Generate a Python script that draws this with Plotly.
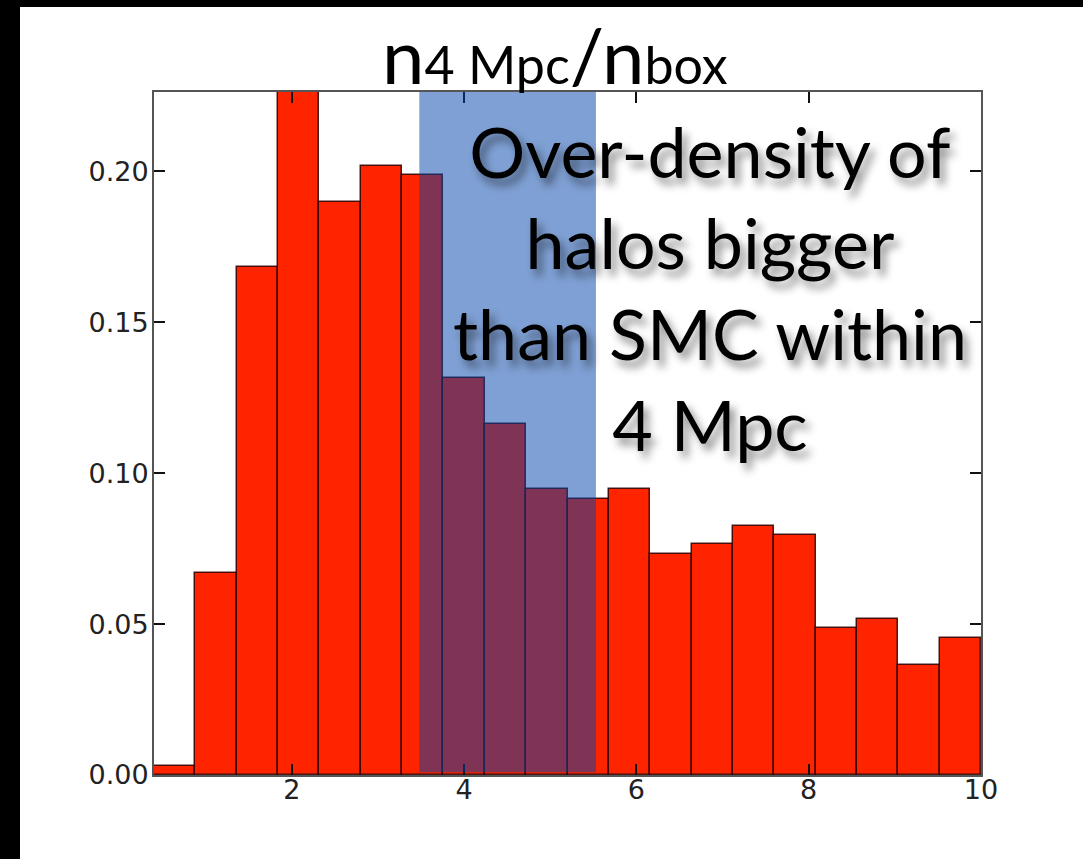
import plotly.graph_objects as go

# ---- data ----
bin_start = 0.4
bin_width = 0.48
heights = [0.0029, 0.0670, 0.1684, 0.2400, 0.1897, 0.2019, 0.1988, 0.1314,
           0.1162, 0.0946, 0.0915, 0.0946, 0.0731, 0.0764, 0.0824, 0.0794,
           0.0487, 0.0518, 0.0363, 0.0455]
centers = [bin_start + bin_width * (i + 0.5) for i in range(len(heights))]
y_ticks = [0.00, 0.05, 0.10, 0.15, 0.20]
x_ticks = [2, 4, 6, 8, 10]
highlight = (3.48, 5.53)
title_html = ('n<span style="font-size:52px">4 Mpc</span>/n'
              '<span style="font-size:52px">box</span>')
note = "Over-density of<br>halos bigger<br>than SMC within<br>4 Mpc"

# ---- layout geometry (pixels) ----
W, H = 1083, 859
L, R, T, B = 154, 102, 92, 84
pw, ph = W - L - R, H - T - B


def px(xpix):
    return (xpix - L) / pw


def py(ypix):
    return 1 - (ypix - T) / ph


fig = go.Figure()
fig.add_trace(go.Bar(
    x=centers, y=heights, width=bin_width,
    marker=dict(color="#ff2400", line=dict(color="rgba(40,0,0,0.85)", width=1.5)),
    showlegend=False, hoverinfo="skip"))

axis_common = dict(showgrid=False, zeroline=False, ticks="inside", ticklen=11,
                   tickwidth=1.5, tickcolor="#111", showline=True, linecolor="#555",
                   linewidth=2, mirror="ticks",
                   tickfont=dict(family="DejaVu Sans", size=27, color="#222"))

fig.update_xaxes(range=[bin_start, bin_start + bin_width * len(heights)],
                 tickvals=x_ticks, ticktext=[str(t) for t in x_ticks],
                 ticklabelstandoff=-10, **axis_common)
fig.update_yaxes(range=[0, 0.2263], tickvals=y_ticks,
                 ticktext=[f"{t:.2f}" for t in y_ticks],
                 ticklabelstandoff=-2, **axis_common)

shapes = [
    dict(type="rect", xref="x", yref="paper", x0=highlight[0], x1=highlight[1],
         y0=0.004, y1=1.0, fillcolor="rgb(0,65,170)", opacity=0.5,
         line=dict(width=0), layer="above"),
    # black slide border
    dict(type="rect", xref="paper", yref="paper", x0=px(0), x1=px(20),
         y0=py(H), y1=py(0), fillcolor="black", line=dict(width=0), layer="above"),
    dict(type="rect", xref="paper", yref="paper", x0=px(0), x1=px(W),
         y0=py(7), y1=py(0), fillcolor="black", line=dict(width=0), layer="above"),
]

fig.update_layout(
    width=W, height=H, margin=dict(l=L, r=R, t=T, b=B),
    paper_bgcolor="white", plot_bgcolor="white", shapes=shapes, bargap=0,
    annotations=[
        dict(text=title_html, xref="paper", yref="paper", x=px(555), y=py(102),
             xanchor="center", yanchor="bottom", showarrow=False,
             font=dict(family="Lato", size=76, color="black")),
        dict(text=note, xref="paper", yref="paper", x=px(710), y=py(287),
             xanchor="center", yanchor="middle", showarrow=False, align="center",
             font=dict(family="Lato", size=70, color="black",
                       shadow="5px 7px 8px rgba(0,0,0,0.45)")),
    ],
)

fig.write_html("out.html")
